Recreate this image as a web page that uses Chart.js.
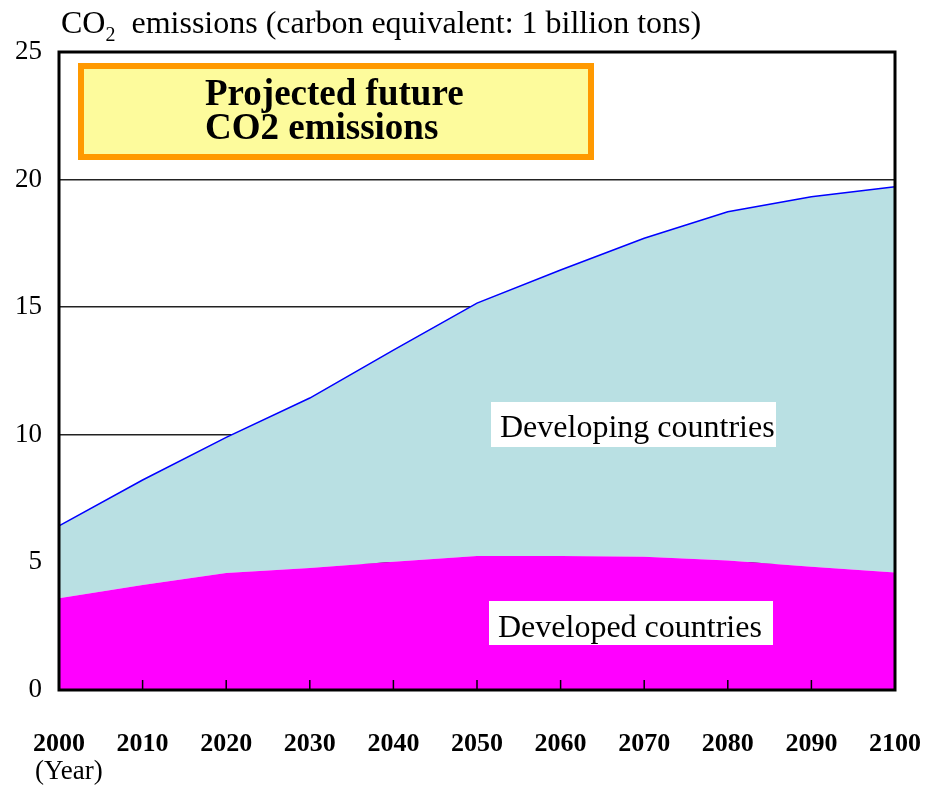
<!DOCTYPE html>
<html>
<head>
<meta charset="utf-8">
<script src="https://cdn.jsdelivr.net/npm/chart.js@4.4.0/dist/chart.umd.min.js"></script>
<style>
  html, body { margin: 0; padding: 0; background: #fff; }
  canvas { display: block; }
</style>
</head>
<body>
<canvas id="myChart" width="933" height="790"></canvas>
<script>
// values (1 billion tons carbon equivalent)
const years = ['2000', '2010', '2020', '2030', '2040', '2050', '2060', '2070', '2080', '2090', '2100'];
const developed = [3.6, 4.11, 4.58, 4.78, 5.03, 5.25, 5.25, 5.22, 5.07, 4.83, 4.6];
const developing = [2.83, 4.12, 5.32, 6.66, 8.29, 9.91, 11.21, 12.48, 13.67, 14.5, 15.12];
const yTicks = [0, 5, 10, 15, 20, 25];

const serif = '"Liberation Serif", "DejaVu Serif", serif';

const decorations = {
  id: 'decorations',
  afterDraw(chart) {
    const ctx = chart.ctx;
    const a = chart.chartArea;
    const x = chart.scales.x;
    ctx.save();

    // inward tick marks on the year axis
    ctx.strokeStyle = '#000';
    ctx.lineWidth = 1.5;
    for (let i = 1; i < years.length - 1; i++) {
      const px = x.getPixelForValue(i);
      ctx.beginPath();
      ctx.moveTo(px, a.bottom);
      ctx.lineTo(px, a.bottom - 10);
      ctx.stroke();
    }

    // frame
    ctx.lineWidth = 3;
    ctx.strokeRect(a.left, a.top, a.right - a.left, a.bottom - a.top);

    // title box
    ctx.fillStyle = '#fdfb9c';
    ctx.fillRect(81, 66, 510, 91);
    ctx.strokeStyle = '#ff9900';
    ctx.lineWidth = 6;
    ctx.strokeRect(81, 66, 510, 91);
    ctx.fillStyle = '#000';
    ctx.font = 'bold 37px ' + serif;
    ctx.textBaseline = 'alphabetic';
    ctx.fillText('Projected future', 205, 105);
    ctx.fillText('CO2 emissions', 205, 139);

    // area labels
    ctx.font = '32px ' + serif;
    ctx.fillStyle = '#fff';
    ctx.fillRect(491, 402, 285, 45);
    ctx.fillRect(489, 601, 284, 44);
    ctx.fillStyle = '#000';
    ctx.fillText('Developing countries', 500, 437);
    ctx.fillText('Developed countries', 498, 637);

    // axis title
    ctx.font = '32px ' + serif;
    ctx.fillText('CO', 61, 33);
    let w = ctx.measureText('CO').width;
    ctx.font = '20px ' + serif;
    ctx.fillText('2', 61 + w, 41);
    w += ctx.measureText('2').width;
    ctx.font = '32px ' + serif;
    ctx.fillText('  emissions (carbon equivalent: 1 billion tons)', 61 + w, 33);

    ctx.font = '27px ' + serif;
    ctx.fillText('(Year)', 35, 779);
    ctx.restore();
  }
};

const config = {
  type: 'line',
  data: {
    labels: years,
    datasets: [
      {
        label: 'Developed countries',
        data: developed,
        fill: 'origin',
        backgroundColor: '#ff00ff',
        borderWidth: 0,
        pointRadius: 0,
        tension: 0
      },
      {
        label: 'Developing countries',
        data: developing,
        fill: '-1',
        backgroundColor: '#b9e0e3',
        borderColor: '#0000ff',
        borderWidth: 1.5,
        pointRadius: 0,
        tension: 0
      }
    ]
  },
  options: {
    responsive: false,
    animation: false,
    layout: { padding: { top: 52, right: 38, left: 0, bottom: 0 } },
    plugins: {
      legend: { display: false },
      tooltip: { enabled: false }
    },
    scales: {
      x: {
        type: 'category',
        offset: false,
        grid: { display: false, drawTicks: false },
        border: { display: false },
        ticks: {
          color: '#000',
          font: { family: serif, size: 26, weight: 'bold' },
          padding: 39,
          maxRotation: 0,
          autoSkip: false
        },
        afterFit(scale) {
          scale.height = 100;
          scale.paddingLeft = 0;
          scale.paddingRight = 0;
        }
      },
      y: {
        stacked: true,
        min: 0,
        max: 25,
        afterBuildTicks(scale) { scale.ticks = yTicks.map(v => ({ value: v })); },
        grid: { color: '#222', lineWidth: 1.5, drawTicks: false },
        border: { display: false },
        ticks: {
          color: '#000',
          font: { family: serif, size: 27 },
          padding: 17
        },
        afterFit(scale) {
          scale.width = 59;
          scale.paddingTop = 0;
          scale.paddingBottom = 0;
        }
      }
    }
  },
  plugins: [decorations]
};

var myChart = new Chart(document.getElementById('myChart'), config);
</script>
</body>
</html>
